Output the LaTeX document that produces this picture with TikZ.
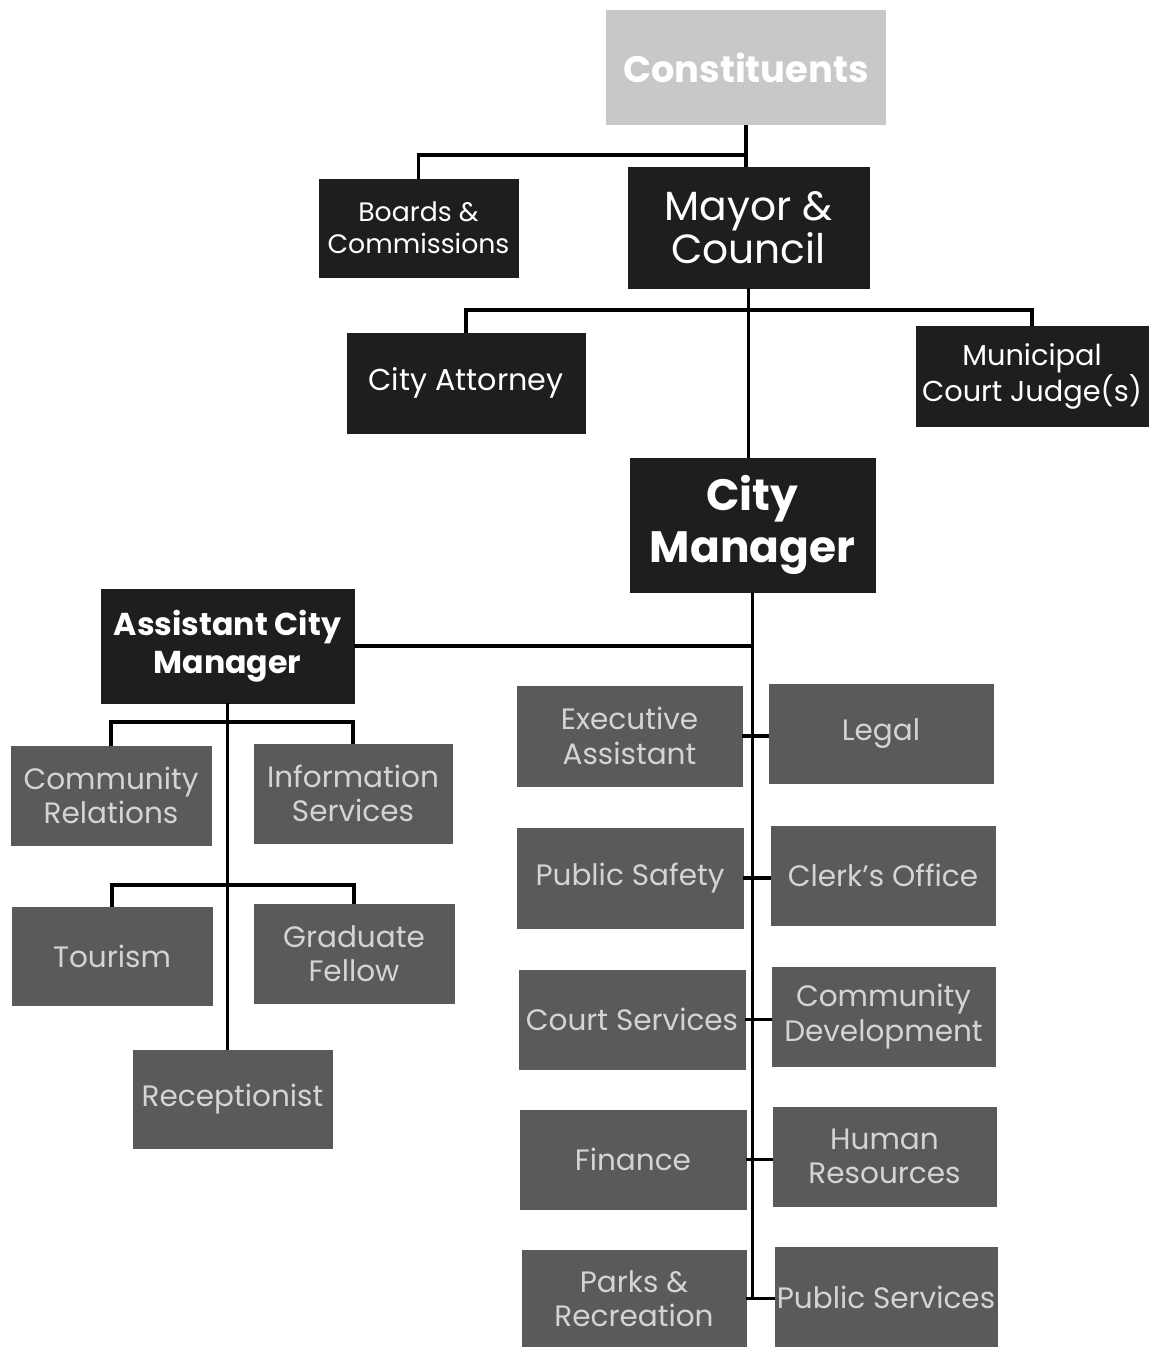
\documentclass[tikz,border=0pt]{standalone}
\usepackage{fontspec}
\setmainfont{Poppins}
\definecolor{darkbox}{HTML}{1E1E1E}
\definecolor{graybox}{HTML}{5A5A5A}
\definecolor{graytext}{HTML}{D4D4D4}
\definecolor{constbox}{HTML}{C8C8C8}
\begin{document}
\begin{tikzpicture}[x=0.02cm,y=-0.02cm,
  box/.style={rectangle, inner sep=0pt, align=center},
  dark/.style={box, fill=darkbox, draw=darkbox, text=white},
  gray/.style={box, fill=graybox, draw=graybox, text=graytext, font=\fontsize{16.8}{19.5}\selectfont},
  link/.style={draw=black, line width=2.2pt}]
\useasboundingbox (0,0) rectangle (1151,1347);
% top
\node[box, fill=constbox, text=white, minimum width=5.6cm, minimum height=2.3cm, font=\bfseries\fontsize{21}{24}\selectfont] (const) at (746,67.5) {Constituents};
\node[dark, minimum width=3.98cm, minimum height=1.96cm, font=\fontsize{15.2}{18}\selectfont] (boards) at (418.5,228) {Boards \&\\Commissions};
\node[dark, minimum width=4.82cm, minimum height=2.42cm, font=\fontsize{23.2}{24.5}\selectfont] (mayor) at (748.5,227.5) {Mayor \&\\Council};
\node[dark, minimum width=4.76cm, minimum height=2.0cm, font=\fontsize{17.2}{19}\selectfont] (attorney) at (466,383) {City Attorney};
\node[dark, minimum width=4.64cm, minimum height=2.0cm, font=\fontsize{16.4}{19}\selectfont] (judge) at (1032,376) {Municipal\\Court Judge(s)};
\node[dark, minimum width=4.9cm, minimum height=2.68cm, font=\bfseries\fontsize{25}{29.5}\selectfont] (cm) at (752.5,525) {City\\Manager};
\node[dark, minimum width=5.06cm, minimum height=2.28cm, font=\bfseries\fontsize{18}{22}\selectfont] (acm) at (227.5,646) {Assistant City\\Manager};
% ACM subtree
\node[gray, minimum width=4.0cm, minimum height=1.98cm] (commrel) at (111,795.5) {Community\\Relations};
\node[gray, minimum width=3.96cm, minimum height=1.98cm] (info) at (353,793.5) {Information\\Services};
\node[gray, minimum width=4.0cm, minimum height=1.96cm] (tourism) at (112,956) {Tourism};
\node[gray, minimum width=4.0cm, minimum height=1.98cm] (grad) at (354,953.5) {Graduate\\Fellow};
\node[gray, minimum width=3.98cm, minimum height=1.96cm] (recept) at (232.5,1099) {Receptionist};
% departments
\node[gray, minimum width=4.5cm, minimum height=2.0cm] (exec) at (629.5,736) {Executive\\Assistant};
\node[gray, minimum width=4.48cm, minimum height=1.98cm] (legal) at (881,733.5) {Legal};
\node[gray, minimum width=4.52cm, minimum height=2.0cm] (safety) at (630,878) {Public Safety};
\node[gray, minimum width=4.48cm, minimum height=1.98cm] (clerk) at (883,875.5) {Clerk's Office};
\node[gray, minimum width=4.52cm, minimum height=1.98cm] (court) at (632,1019.5) {Court Services};
\node[gray, minimum width=4.46cm, minimum height=1.98cm] (commdev) at (883.5,1016.5) {Community\\Development};
\node[gray, minimum width=4.52cm, minimum height=1.98cm] (finance) at (633,1159.5) {Finance};
\node[gray, minimum width=4.46cm, minimum height=1.98cm] (hr) at (884.5,1156.5) {Human\\Resources};
\node[gray, minimum width=4.48cm, minimum height=1.94cm] (parks) at (634,1298.5) {Parks \&\\Recreation};
\node[gray, minimum width=4.44cm, minimum height=2.0cm] (pubsvc) at (886,1297) {Public Services};
% connectors
\draw[link] (const.south) -- (const.south |- mayor.north);
\draw[link] (const.south |- 0,155) -| (boards.north);
\draw[link] (mayor.south) -- (mayor.south |- cm.north);
\draw[link] (mayor.south |- 0,310) -| (attorney.north);
\draw[link] (mayor.south |- 0,310) -| (judge.north);
\draw[link] (cm.south) -- (cm.south |- pubsvc.west);
\draw[link] (acm.east) -- (acm.east -| cm.south);
\draw[link] (exec.east) -- (exec.east -| legal.west);
\draw[link] (safety.east) -- (safety.east -| clerk.west);
\draw[link] (court.east) -- (court.east -| commdev.west);
\draw[link] (finance.east) -- (finance.east -| hr.west);
\draw[link] (parks.east) -- (parks.east -| pubsvc.west);
\draw[link] (acm.south) -- (acm.south |- recept.north);
\draw[link] (acm.south |- 0,722) -| (commrel.north);
\draw[link] (acm.south |- 0,722) -| (info.north);
\draw[link] (acm.south |- 0,885) -| (tourism.north);
\draw[link] (acm.south |- 0,885) -| (grad.north);
\end{tikzpicture}
\end{document}
